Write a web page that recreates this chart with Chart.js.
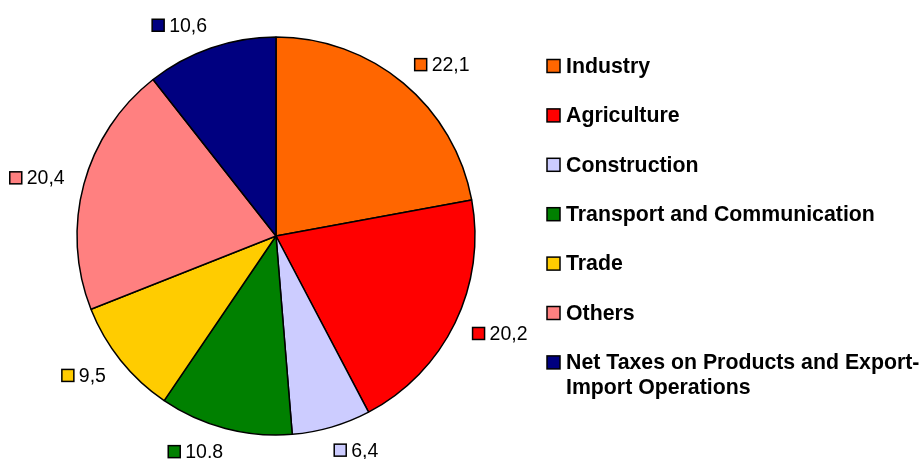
<!DOCTYPE html>
<html>
<head>
<meta charset="utf-8">
<style>
    html, body { margin: 0; padding: 0; background: #fff; }
    #wrap { position: relative; width: 923px; height: 459px; }
</style>
<script src="https://cdn.jsdelivr.net/npm/chart.js@4/dist/chart.umd.min.js"></script>
</head>
<body>
<div id="wrap"><canvas id="pieChart" width="923" height="459"></canvas></div>
<script>
// Chart data
const categories = [
    'Industry',
    'Agriculture',
    'Construction',
    'Transport and Communication',
    'Trade',
    'Others',
    'Net Taxes on Products and Export-Import Operations'
];
const shares = [22.1, 20.2, 6.4, 10.8, 9.5, 20.4, 10.6];
const valueLabels = ['22,1', '20,2', '6,4', '10.8', '9,5', '20,4', '10,6'];
const sliceColors = ['#FF6600', '#FF0000', '#CCCCFF', '#008000', '#FFCC00', '#FF8080', '#000080'];

// legend lines (last category wraps onto two lines)
const legendLines = [
    ['Industry'],
    ['Agriculture'],
    ['Construction'],
    ['Transport and Communication'],
    ['Trade'],
    ['Others'],
    ['Net Taxes on Products and Export-', 'Import Operations']
];

function drawMarker(ctx, x, y, size, color) {
    ctx.fillStyle = color;
    ctx.fillRect(x, y, size, size);
    ctx.strokeStyle = '#000';
    ctx.lineWidth = 1.5;
    ctx.strokeRect(x, y, size, size);
}

// Data labels: coloured square + value, placed outside each slice
const sliceLabels = {
    id: 'sliceLabels',
    afterDraw(chart) {
        const ctx = chart.ctx;
        const meta = chart.getDatasetMeta(0);
        ctx.save();
        ctx.font = '19.5px "Liberation Sans", Arial, sans-serif';
        ctx.textBaseline = 'middle';
        meta.data.forEach((arc, i) => {
            const p = arc.getProps(['x', 'y', 'startAngle', 'endAngle', 'outerRadius'], true);
            const mid = (p.startAngle + p.endAngle) / 2;
            const dx = Math.cos(mid), dy = Math.sin(mid);
            const text = valueLabels[i];
            const boxSize = 12, gap = 5;
            const w = boxSize + gap + ctx.measureText(text).width;
            const dist = p.outerRadius + 24;
            const cx = p.x + dx * dist + Math.sign(dx) * (w / 2 - 4);
            const cy = p.y + dy * dist;
            const left = cx - w / 2;
            drawMarker(ctx, left, cy - boxSize / 2, boxSize, sliceColors[i]);
            ctx.fillStyle = '#000';
            ctx.textAlign = 'left';
            ctx.fillText(text, left + boxSize + gap, cy + 1);
        });
        ctx.restore();
    }
};

// Legend on the right
const sideLegend = {
    id: 'sideLegend',
    afterDraw(chart) {
        const ctx = chart.ctx;
        ctx.save();
        ctx.font = 'bold 21.3px "Liberation Sans", Arial, sans-serif';
        ctx.textBaseline = 'middle';
        ctx.textAlign = 'left';
        const x0 = 547, y0 = 66, step = 49.4, lineH = 25;
        legendLines.forEach((lines, i) => {
            const y = y0 + i * step;
            drawMarker(ctx, x0, y - 6.5, 13, sliceColors[i]);
            ctx.fillStyle = '#000';
            lines.forEach((ln, j) => {
                ctx.fillText(ln, x0 + 19, y + 1 + j * lineH);
            });
        });
        ctx.restore();
    }
};

const chart = new Chart(document.getElementById('pieChart'), {
    type: 'pie',
    data: {
        labels: categories,
        datasets: [{
            data: shares,
            backgroundColor: sliceColors,
            borderColor: '#000',
            borderWidth: 1.5,
            borderAlign: 'center'
        }]
    },
    options: {
        responsive: false,
        animation: false,
        radius: 199,
        layout: {
            padding: { left: 76, right: 447, top: 36, bottom: 23 }
        },
        plugins: {
            legend: { display: false },
            tooltip: { enabled: false }
        }
    },
    plugins: [sliceLabels, sideLegend]
});
</script>
</body>
</html>
